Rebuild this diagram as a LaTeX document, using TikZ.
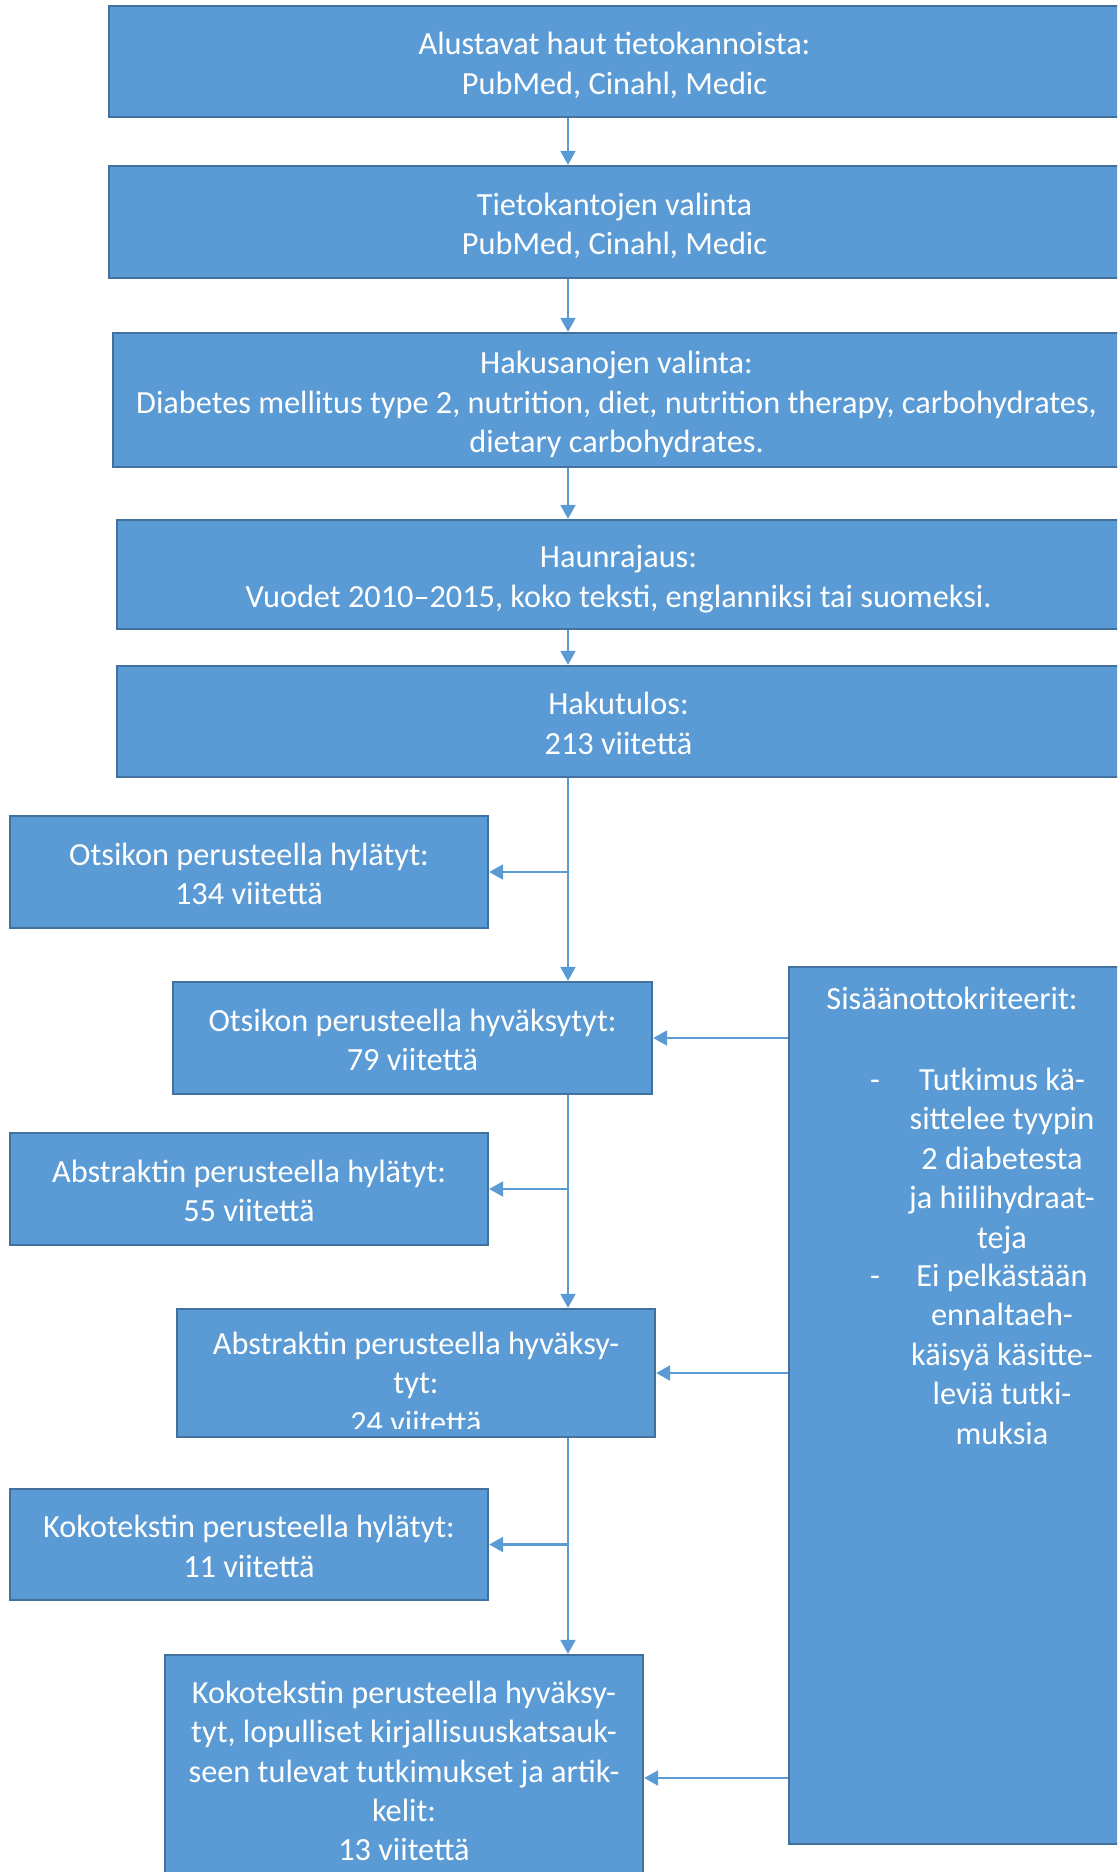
\documentclass[tikz,border=0pt]{standalone}
\usepackage{fontspec}
\setmainfont{Carlito}
\usepackage{xcolor}
\usepackage{array}
\usetikzlibrary{arrows.meta,calc,positioning}
\definecolor{boxfill}{HTML}{5B9BD5}
\definecolor{boxline}{HTML}{41719C}
\newcommand{\boxfont}{\fontsize{32.3}{39.4}\selectfont}
\newcommand{\wordstrut}{\rule[-6.7pt]{0pt}{39.4pt}}
\newcolumntype{W}{>{\wordstrut}c}
\renewcommand{\arraystretch}{0}
\newcommand{\lines}[1]{\begin{tabular}{@{}W@{}}#1\end{tabular}}
\tikzset{%
	process/.style = {draw=boxline, fill=boxfill, line width=2.3pt, rectangle, inner sep=0pt, text=white, font=\boxfont},
	boxtext/.style = {text=white, font=\boxfont, inner sep=0pt},
	arrow/.style   = {draw=boxfill, line width=2.2pt, -{Triangle[length=14pt,width=15pt]}},
}

\begin{document}
\begin{tikzpicture}[x=1pt,y=-1pt]
	\useasboundingbox (0,0) rectangle (1117,1872);
	\clip (0,0) rectangle (1117,1872);
	\coordinate (spine) at (568,0);
	
	% search stages
	\node[process, minimum width=1011pt, minimum height=111pt] (prelim) at (614.5,61.5) {\lines{Alustavat haut tietokannoista:\\PubMed, Cinahl, Medic}};
	\node[process, minimum width=1011pt, minimum height=112pt] (dbsel) at (614.5,222) {\lines{Tietokantojen valinta\\PubMed, Cinahl, Medic}};
	\node[process, minimum width=1007pt, minimum height=134pt] (terms) at (616.5,400) {\lines{Hakusanojen valinta:\\Diabetes mellitus type 2, nutrition, diet, nutrition therapy, carbohydrates,\\dietary carbohydrates.}};
	\node[process, minimum width=1003pt, minimum height=109pt] (limits) at (618.5,574.5) {\lines{Haunrajaus:\\Vuodet 2010–2015, koko teksti, englanniksi tai suomeksi.}};
	\node[process, minimum width=1003pt, minimum height=111pt] (result) at (618.5,721.5) {\lines{Hakutulos:\\213 viitettä}};
	
	\draw[arrow] (prelim.south -| spine) -- (dbsel.north -| spine);
	\draw[arrow] (dbsel.south -| spine) -- (terms.north -| spine);
	\draw[arrow] (terms.south -| spine) -- (limits.north -| spine);
	\draw[arrow] (limits.south -| spine) -- (result.north -| spine);
	
	% screening
	\node[process, minimum width=478pt, minimum height=112pt] (titlerej) at (249,872) {\lines{Otsikon perusteella hylätyt:\\134 viitettä}};
	\node[process, minimum width=479pt, minimum height=112pt] (titleacc) at (412.5,1038) {\lines{Otsikon perusteella hyväksytyt:\\79 viitettä}};
	\node[process, minimum width=478pt, minimum height=112pt] (absrej) at (249,1189) {\lines{Abstraktin perusteella hylätyt:\\55 viitettä}};
	\node[process, minimum width=478pt, minimum height=128pt] (absacc) at (416,1373) {};
	\begin{scope}
		\clip (absacc.north west) rectangle ($(absacc.south east)+(0,-10)$);
		\node[boxtext, anchor=north] (absacctext) at (416,1321.5) {\lines{Abstraktin perusteella hyväksy-\\tyt:\\24 viitettä}};
	\end{scope}
	\node[process, minimum width=478pt, minimum height=111pt] (fullrej) at (249,1544.5) {\lines{Kokotekstin perusteella hylätyt:\\11 viitettä}};
	\node[process, minimum width=478pt, minimum height=228pt] (fullacc) at (404,1769) {\lines{Kokotekstin perusteella hyväksy-\\tyt, lopulliset kirjallisuuskatsauk-\\seen tulevat tutkimukset ja artik-\\kelit:\\13 viitettä}};
	
	\draw[arrow] (result.south -| spine) -- (titleacc.north -| spine);
	\draw[arrow] (titlerej.east -| spine) -- (titlerej.east);
	\draw[arrow] (titleacc.south -| spine) -- (absacc.north -| spine);
	\draw[arrow] (absrej.east -| spine) -- (absrej.east);
	\draw[arrow] (absacc.south -| spine) -- (fullacc.north -| spine);
	\draw[arrow] (fullrej.east -| spine) -- (fullrej.east);
	
	% inclusion criteria
	\node[process, minimum width=331pt, minimum height=877pt] (crit) at (954.5,1405.5) {};
	\node[boxtext, anchor=north] (crittitle) at (952,976.5) {\lines{Sisäänottokriteerit:}};
	\node[boxtext, anchor=north] (dash1) at (875,1057.5) {\lines{-}};
	\node[boxtext, anchor=north] (item1) at (1002,1057.5) {\lines{Tutkimus kä-\\sittelee tyypin\\2 diabetesta\\ja hiilihydraat-\\teja}};
	\node[boxtext, anchor=north] (dash2) at (875,1253.5) {\lines{-}};
	\node[boxtext, anchor=north] (item2) at (1002,1253.5) {\lines{Ei pelkästään\\ennaltaeh-\\käisyä käsitte-\\leviä tutki-\\muksia}};
	
	\coordinate (c3) at (789,1778);
	\draw[arrow] (crit.west |- titleacc.east) -- (titleacc.east);
	\draw[arrow] (crit.west |- absacc.east) -- (absacc.east);
	\draw[arrow] (crit.west |- c3) -- (fullacc.east |- c3);
\end{tikzpicture}
\end{document}
